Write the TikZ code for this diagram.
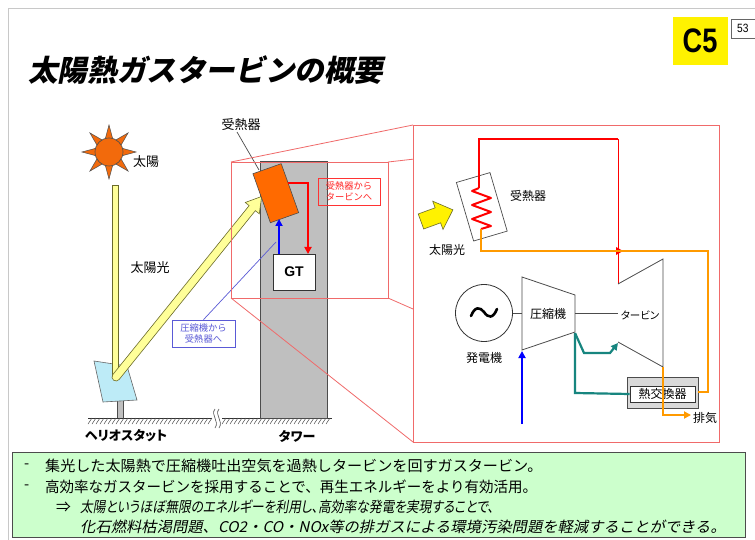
\documentclass[tikz,border=0pt]{standalone}
\usepackage{fontspec}
\usepackage{graphicx}
\setmainfont{Noto Sans CJK JP}
\newfontfamily\jpslant[FakeSlant=0.2]{Noto Sans CJK JP}
\newfontfamily\jpslantprop[FakeSlant=0.2, RawFeature={+palt}]{Noto Sans CJK JP}
\newfontfamily\jpprop[RawFeature={+palt}]{Noto Sans CJK JP}
\newfontfamily\latinsans{Liberation Sans}
\usetikzlibrary{arrows.meta}

\definecolor{frameRed}{HTML}{F06A6A}
\definecolor{sunOrange}{HTML}{F26A0C}
\definecolor{recvOrange}{HTML}{FF6A00}
\definecolor{beamYellow}{HTML}{FFFF99}
\definecolor{beamEdge}{HTML}{6B6B2A}
\definecolor{pipeOrange}{HTML}{FF9A00}
\definecolor{pipeTeal}{HTML}{17857F}
\definecolor{towerGray}{HTML}{BFBFBF}
\definecolor{panelBlue}{HTML}{BDEBF7}
\definecolor{noteGreen}{HTML}{CCFFCC}
\definecolor{labelBlue}{HTML}{5A5AD6}
\definecolor{slideGray}{HTML}{C8C8C8}

\begin{document}
\begin{tikzpicture}[x=1pt,y=-1pt,
  lbl/.style={inner sep=0pt, font=\jpprop\fontsize{13}{15}\selectfont},
  slbl/.style={inner sep=0pt, font=\jpprop\fontsize{12}{14}\selectfont},
  frameline/.style={draw=frameRed, line width=0.8pt},
  machine/.style={draw=black!70, line width=0.8pt},
  pipe/.style={line width=2.2pt, line join=miter},
  tip/.style={-{Triangle[length=7pt,width=7pt]}},
  notetext/.style={anchor=west, inner sep=0pt, font=\fontsize{14.8}{16}\selectfont},
  noteslant/.style={anchor=west, inner sep=0pt, font=\jpslant\fontsize{14.8}{16}\selectfont},
  tagbox/.style={inner sep=2pt, align=left, font=\fontsize{9.3}{11}\selectfont}
]
\useasboundingbox (0,0) rectangle (755,540);
\fill[white] (0,0) rectangle (755,540);

% slide border
\draw[slideGray, line width=0.8pt] (8,540) -- (8,8) -- (755,8);

% heading and tags
\node[anchor=west, inner sep=0pt, font=\jpslant\bfseries\fontsize{29.6}{32}\selectfont] (title) at (28,70) {太陽熱ガスタービンの概要};
\node[fill=yellow, minimum width=55pt, minimum height=48pt, inner sep=0pt,
      font=\latinsans\bfseries\fontsize{34}{34}\selectfont] (tag) at (700,41) {\scalebox{0.8}[1]{C5}};
\draw[black!60, fill=white] (731,19) rectangle (760,38);
\node[anchor=west, inner sep=0pt, font=\latinsans\fontsize{12}{12}\selectfont] (page) at (737,28.5) {\scalebox{0.85}[1]{53}};

% ---------- left scene ----------
% sun
\begin{scope}[shift={(109,152)}]
  \foreach \a in {0,45,...,315}
    \filldraw[fill=sunOrange, draw=black!70, line width=0.5pt] (\a+15:14) -- (\a:27) -- (\a-15:14) -- cycle;
\end{scope}
\node[circle, minimum size=28pt, inner sep=0pt, fill=sunOrange, draw=black!70, line width=0.6pt] (sun) at (109,152) {};
\node[lbl] (sunlbl) at (146,162) {太陽};

% heliostat
\filldraw[fill=black!25, draw=black!70, line width=0.6pt] (117,400) rectangle (123,418);
\filldraw[fill=panelBlue, draw=black!60, line width=0.6pt] (94,361) -- (127,366) -- (137,400) -- (103,402) -- cycle;
\coordinate (mirror) at (116,377);

% ground with break mark
\draw[black!80, line width=0.8pt] (88,418) -- (212,418);
\draw[black!80, line width=0.8pt] (222,418) -- (332,418);
\foreach \x in {92,96,...,212} \draw[black!70, line width=0.5pt] (\x,418) -- (\x-4,424);
\foreach \x in {226,230,...,332} \draw[black!70, line width=0.5pt] (\x,418) -- (\x-4,424);
\draw[black!70, line width=0.6pt] (215,409) .. controls (210,415) and (220,421) .. (215,428);
\draw[black!70, line width=0.6pt] (219,409) .. controls (214,415) and (224,421) .. (219,428);

% tower
\filldraw[fill=towerGray, draw=black!70, line width=0.8pt] (260,161) rectangle (327,418);
\node[lbl, font=\jpprop\bfseries\fontsize{13}{15}\selectfont] (towerlbl) at (297,436) {タワー};
\node[lbl, font=\jpprop\bfseries\fontsize{13}{15}\selectfont] (heliolbl) at (126,436) {ヘリオスタット};

% sunlight beams
\filldraw[fill=beamYellow, draw=beamEdge, line width=0.6pt] (112,185) rectangle (118,377);
\node[lbl] (beamlbl) at (150,268) {太陽光};
\begin{scope}[shift={(mirror)}, rotate=51.1]
  \filldraw[fill=beamYellow, draw=beamEdge, line width=0.6pt]
    (0,-4) -- (217,-4) -- (217,-9) -- (232,0) -- (217,9) -- (217,4) -- (0,4) arc (90:270:4) -- cycle;
\end{scope}

% receiver on the tower
\node[draw=black!70, fill=recvOrange, minimum width=30pt, minimum height=52pt, inner sep=0pt, rotate=19.6, line width=0.6pt] (recv) at (275.8,193.2) {};
\node[lbl] (recvlbl) at (241,125) {受熱器};
\draw[black!70, line width=0.7pt] (237,132) -- (259,170);

% gas turbine box with its feeds
\node[draw=black!80, fill=white, minimum width=42pt, minimum height=36pt, inner sep=0pt, line width=0.8pt,
      font=\latinsans\bfseries\fontsize{14}{14}\selectfont] (gt) at (294,272) {GT};
\draw[blue, line width=2.4pt, tip] (279,254) -- (279,219);
\draw[red, line width=2.4pt, tip] (288,183) -| (308,254);

% callout boxes
\node[tagbox, draw=red!80, text=red!85, line width=0.7pt, minimum width=62pt, minimum height=27pt] (toTurbine) at (349,191.5) {受熱器から\\タービンへ};
\node[tagbox, draw=labelBlue, text=labelBlue, line width=0.7pt, minimum width=63pt, minimum height=27pt, align=center] (toRecv) at (203.5,333.5) {圧縮機から\\受熱器へ};
\draw[labelBlue, line width=0.7pt] (toRecv.north) -- (276,242);

% ---------- magnified view frame ----------
\draw[frameline] (231,162) rectangle (388,298);
\draw[frameline] (413,125) rectangle (719,442);
\draw[frameline] (231,162) -- (413,125);
\draw[frameline] (231,298) -- (413,442);
\draw[frameline] (388,162) -- (413,159.2);
\draw[frameline] (388,298) -- (413,309);

% ---------- magnified view contents ----------
% incoming sunlight
\begin{scope}[shift={(436,216)}, rotate=20]
  \filldraw[fill=yellow, draw=beamEdge, line width=0.6pt]
    (-16,-8) -- (2,-8) -- (2,-15) -- (18,0) -- (2,15) -- (2,8) -- (-16,8) -- cycle;
\end{scope}
\node[slbl] (sun2lbl) at (447,250) {太陽光};

% receiver with heating coil
\node[draw=black!70, fill=white, minimum width=35pt, minimum height=61pt, inner sep=0pt, rotate=16.4, line width=0.7pt] (rx) at (481.8,206.8) {};
\node[slbl] (rxlbl) at (528,196) {受熱器};

% hot air to the turbine
\draw[red, pipe] (479,188) -- (479,139) -- (618,139);
\draw[red, line width=0.9pt] (618,139) -- (618,284);
\fill[red] (616,247) -- (623,251) -- (616,255) -- cycle;
\draw[red, line width=2pt, line join=round]
  (479,188) -- (472,191) -- (491,198) -- (472,205) -- (491,212) -- (472,219) -- (491,226) -- (481,229);

% generator
\node[circle, draw=black!80, line width=0.8pt, minimum size=57pt, inner sep=0pt] (gen) at (484,313) {};
\draw[black, line width=2.6pt, line cap=round] (471,316) .. controls (475,306) and (480,307) .. (484,312) .. controls (488,318) and (493,319) .. (497,309);
\node[slbl] (genlbl) at (484,358) {発電機};

% compressor and turbine
\draw[machine] (522,277) -- (575,295) -- (575,332) -- (522,350) -- cycle;
\node[slbl] (complbl) at (548,314) {圧縮機};
\draw[machine] (618,284) -- (663,259) -- (663,367) -- (618,342);
\node[inner sep=0pt, font=\jpprop\fontsize{10.5}{12}\selectfont] (turblbl) at (640,315) {タービン};
\draw[machine] (gen.east) -- (522,313);
\draw[machine] (575,313) -- (618,313);

% heat exchanger
\filldraw[fill=black!15, draw=black!70, line width=0.7pt] (627,377) rectangle (698,408);
\node[draw=black!80, fill=white, line width=0.7pt, minimum width=65pt, minimum height=16pt, inner sep=0pt,
      font=\jpprop\fontsize{12}{14}\selectfont] (hx) at (662.5,394) {熱交換器};

% working-fluid lines
\draw[pipeOrange, pipe] (481,229) -- (481,251) -- (708,251) -- (708,392) -- (698,392);
\draw[pipeOrange, pipe, tip] (663,367) -- (663,415) -- (691,415);
\node[slbl, anchor=west] (exhlbl) at (693,418) {排気};
\draw[pipeTeal, pipe] (575,333) -- (575,393) -- (hx.west);
\draw[pipeTeal, pipe, tip] (575,333) -- (584,353) -- (610,353) -- (618,343);
\draw[blue, line width=2.4pt, tip] (522,424) -- (522,351);

% ---------- summary ----------
\node[draw=black!70, fill=noteGreen, line width=0.9pt, minimum width=733pt, minimum height=85pt, inner sep=0pt, anchor=north west] (note) at (12,452) {};
\node[notetext] (d1) at (24,466) {-};
\node[notetext] (l1) at (45,466) {\scalebox{1.02}[1]{集光した太陽熱で圧縮機吐出空気を過熱しタービンを回すガスタービン。}};
\node[notetext] (d2) at (24,487) {-};
\node[notetext] (l2) at (45,487) {\scalebox{0.98}[1]{高効率なガスタービンを採用することで、再生エネルギーをより有効活用。}};
\node[notetext] (arr) at (56,507) {⇒};
\node[noteslant, font=\jpslantprop\fontsize{14.8}{16}\selectfont] (l3) at (80,507) {\scalebox{0.86}[1]{太陽というほぼ無限のエネルギーを利用し、高効率な発電を実現することで、}};
\node[noteslant] (l4) at (80,527) {\scalebox{1.035}[1]{化石燃料枯渇問題、CO2・CO・NOx等の排ガスによる環境汚染問題を軽減することができる。}};
\end{tikzpicture}
\end{document}
